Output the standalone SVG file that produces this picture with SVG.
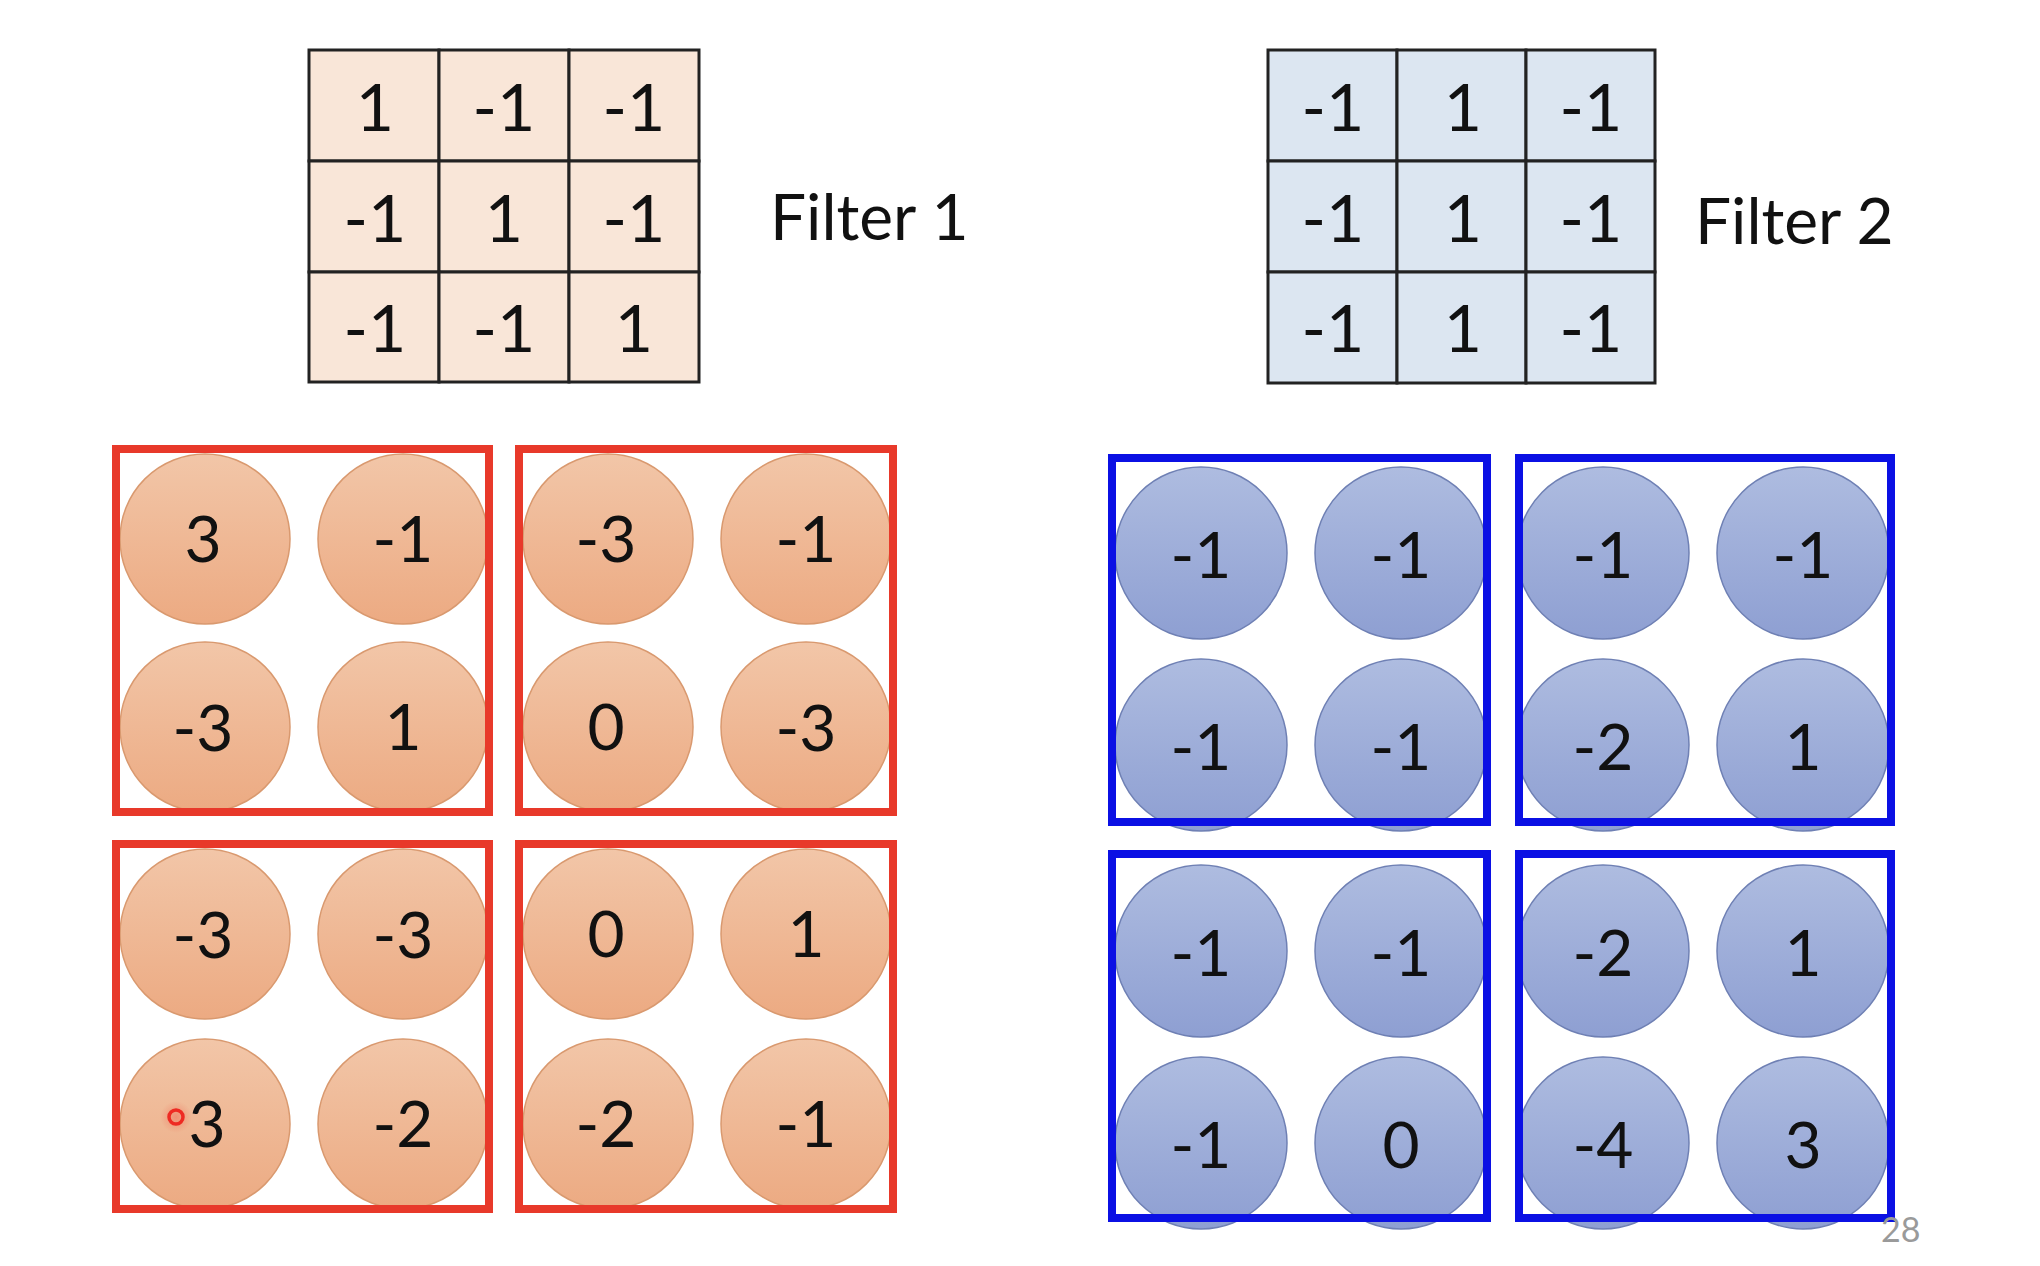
<svg xmlns="http://www.w3.org/2000/svg" width="2040" height="1266" viewBox="0 0 2040 1266">
  <defs>
    <linearGradient id="gOrange" x1="0" y1="0" x2="0" y2="1">
      <stop offset="0" stop-color="#F2C6A8"/>
      <stop offset="1" stop-color="#ECAA82"/>
    </linearGradient>
    <linearGradient id="gBlue" x1="0" y1="0" x2="0" y2="1">
      <stop offset="0" stop-color="#AEBCE0"/>
      <stop offset="1" stop-color="#8E9FD2"/>
    </linearGradient>
    <radialGradient id="gGlow">
      <stop offset="0" stop-color="#F04030" stop-opacity="0.35"/>
      <stop offset="1" stop-color="#F04030" stop-opacity="0"/>
    </radialGradient>
  </defs>
  <style>
    .num { font-family: Lato, "Open Sans", "Liberation Sans", sans-serif; font-size: 64px; fill: #111; text-anchor: middle; }
    .fnum { font-family: Lato, "Open Sans", "Liberation Sans", sans-serif; font-size: 66px; fill: #111; text-anchor: middle; }
    .label { font-family: Lato, "Open Sans", "Liberation Sans", sans-serif; font-size: 64px; fill: #111; }
    .cellA { fill: #F9E6D8; stroke: #222; stroke-width: 3; }
    .cellB { fill: #DCE6F1; stroke: #222; stroke-width: 3; }
    .co { fill: url(#gOrange); stroke: #D9996F; stroke-width: 1.5; }
    .cb { fill: url(#gBlue); stroke: #6F80B4; stroke-width: 1.5; }
    .boxR { fill: none; stroke: #E8392A; stroke-width: 8; }
    .boxB { fill: none; stroke: #0B10E4; stroke-width: 8; }
    .page { font-family: Lato, "Open Sans", "Liberation Sans", sans-serif; font-size: 34px; fill: #9A9A9A; }
  </style>
  <rect x="0" y="0" width="2040" height="1266" fill="#FFFFFF"/>

  <g id="filter1">
    <rect class="cellA" x="309" y="50" width="130" height="111"/>
    <rect class="cellA" x="439" y="50" width="130" height="111"/>
    <rect class="cellA" x="569" y="50" width="130" height="111"/>
    <rect class="cellA" x="309" y="161" width="130" height="111"/>
    <rect class="cellA" x="439" y="161" width="130" height="111"/>
    <rect class="cellA" x="569" y="161" width="130" height="111"/>
    <rect class="cellA" x="309" y="272" width="130" height="110"/>
    <rect class="cellA" x="439" y="272" width="130" height="110"/>
    <rect class="cellA" x="569" y="272" width="130" height="110"/>
    <text class="fnum" x="375" y="131">1</text>
    <text class="fnum" x="504" y="131">-1</text>
    <text class="fnum" x="634" y="131">-1</text>
    <text class="fnum" x="375" y="242">-1</text>
    <text class="fnum" x="504" y="242">1</text>
    <text class="fnum" x="634" y="242">-1</text>
    <text class="fnum" x="375" y="352">-1</text>
    <text class="fnum" x="504" y="352">-1</text>
    <text class="fnum" x="634" y="352">1</text>
  </g>
  <g id="filter1-label">
    <text class="label" x="770" y="240">Filter 1</text>
  </g>

  <g id="filter2">
    <rect class="cellB" x="1268" y="50" width="129" height="111"/>
    <rect class="cellB" x="1397" y="50" width="129" height="111"/>
    <rect class="cellB" x="1526" y="50" width="129" height="111"/>
    <rect class="cellB" x="1268" y="161" width="129" height="111"/>
    <rect class="cellB" x="1397" y="161" width="129" height="111"/>
    <rect class="cellB" x="1526" y="161" width="129" height="111"/>
    <rect class="cellB" x="1268" y="272" width="129" height="111"/>
    <rect class="cellB" x="1397" y="272" width="129" height="111"/>
    <rect class="cellB" x="1526" y="272" width="129" height="111"/>
    <text class="fnum" x="1333" y="131">-1</text>
    <text class="fnum" x="1463" y="131">1</text>
    <text class="fnum" x="1591" y="131">-1</text>
    <text class="fnum" x="1333" y="242">-1</text>
    <text class="fnum" x="1463" y="242">1</text>
    <text class="fnum" x="1591" y="242">-1</text>
    <text class="fnum" x="1333" y="352">-1</text>
    <text class="fnum" x="1463" y="352">1</text>
    <text class="fnum" x="1591" y="352">-1</text>
  </g>
  <g id="filter2-label">
    <text class="label" x="1695" y="244">Filter 2</text>
  </g>

  <g id="map1-q1">
    <circle class="co" cx="205" cy="539" r="85"/>
    <circle class="co" cx="403" cy="539" r="85"/>
    <circle class="co" cx="205" cy="727" r="85"/>
    <circle class="co" cx="403" cy="727" r="85"/>
    <text class="num" x="203" y="562">3</text>
    <text class="num" x="403" y="562">-1</text>
    <text class="num" x="203" y="751">-3</text>
    <text class="num" x="403" y="750">1</text>
    <rect class="boxR" x="116" y="449" width="373" height="363"/>
  </g>
  <g id="map1-q2">
    <circle class="co" cx="608" cy="539" r="85"/>
    <circle class="co" cx="806" cy="539" r="85"/>
    <circle class="co" cx="608" cy="727" r="85"/>
    <circle class="co" cx="806" cy="727" r="85"/>
    <text class="num" x="606" y="562">-3</text>
    <text class="num" x="806" y="562">-1</text>
    <text class="num" x="606" y="750">0</text>
    <text class="num" x="806" y="751">-3</text>
    <rect class="boxR" x="519" y="449" width="374" height="363"/>
  </g>
  <g id="map1-q3">
    <circle class="co" cx="205" cy="934" r="85"/>
    <circle class="co" cx="403" cy="934" r="85"/>
    <circle class="co" cx="205" cy="1124" r="85"/>
    <circle class="co" cx="403" cy="1124" r="85"/>
    <text class="num" x="203" y="958">-3</text>
    <text class="num" x="403" y="958">-3</text>
    <text class="num" x="207" y="1147">3</text>
    <text class="num" x="403" y="1147">-2</text>
    <rect class="boxR" x="116" y="844" width="373" height="365"/>
  </g>
  <g id="map1-q4">
    <circle class="co" cx="608" cy="934" r="85"/>
    <circle class="co" cx="806" cy="934" r="85"/>
    <circle class="co" cx="608" cy="1124" r="85"/>
    <circle class="co" cx="806" cy="1124" r="85"/>
    <text class="num" x="606" y="957">0</text>
    <text class="num" x="806" y="957">1</text>
    <text class="num" x="606" y="1147">-2</text>
    <text class="num" x="806" y="1147">-1</text>
    <rect class="boxR" x="519" y="844" width="374" height="365"/>
  </g>

  <g id="map2-q1">
    <circle class="cb" cx="1201" cy="553" r="86"/>
    <circle class="cb" cx="1401" cy="553" r="86"/>
    <circle class="cb" cx="1201" cy="745" r="86"/>
    <circle class="cb" cx="1401" cy="745" r="86"/>
    <text class="num" x="1201" y="578">-1</text>
    <text class="num" x="1401" y="578">-1</text>
    <text class="num" x="1201" y="770">-1</text>
    <text class="num" x="1401" y="770">-1</text>
    <rect class="boxB" x="1112" y="458" width="375" height="364"/>
  </g>
  <g id="map2-q2">
    <circle class="cb" cx="1603" cy="553" r="86"/>
    <circle class="cb" cx="1803" cy="553" r="86"/>
    <circle class="cb" cx="1603" cy="745" r="86"/>
    <circle class="cb" cx="1803" cy="745" r="86"/>
    <text class="num" x="1603" y="578">-1</text>
    <text class="num" x="1803" y="578">-1</text>
    <text class="num" x="1603" y="770">-2</text>
    <text class="num" x="1803" y="770">1</text>
    <rect class="boxB" x="1519" y="458" width="372" height="364"/>
  </g>
  <g id="map2-q3">
    <circle class="cb" cx="1201" cy="951" r="86"/>
    <circle class="cb" cx="1401" cy="951" r="86"/>
    <circle class="cb" cx="1201" cy="1143" r="86"/>
    <circle class="cb" cx="1401" cy="1143" r="86"/>
    <text class="num" x="1201" y="976">-1</text>
    <text class="num" x="1401" y="976">-1</text>
    <text class="num" x="1201" y="1168">-1</text>
    <text class="num" x="1401" y="1168">0</text>
    <rect class="boxB" x="1112" y="854" width="375" height="364"/>
  </g>
  <g id="map2-q4">
    <circle class="cb" cx="1603" cy="951" r="86"/>
    <circle class="cb" cx="1803" cy="951" r="86"/>
    <circle class="cb" cx="1603" cy="1143" r="86"/>
    <circle class="cb" cx="1803" cy="1143" r="86"/>
    <text class="num" x="1603" y="976">-2</text>
    <text class="num" x="1803" y="976">1</text>
    <text class="num" x="1603" y="1168">-4</text>
    <text class="num" x="1803" y="1168">3</text>
    <rect class="boxB" x="1519" y="854" width="372" height="364"/>
  </g>

  <g id="cursor-mark">
    <circle cx="176" cy="1117" r="16" fill="url(#gGlow)"/>
    <circle cx="176" cy="1117" r="7" fill="none" stroke="#EE2A22" stroke-width="3.5"/>
  </g>

  <g id="connectors"></g>

  <g id="page-number">
    <text class="page" x="1881" y="1242">28</text>
  </g>
</svg>
